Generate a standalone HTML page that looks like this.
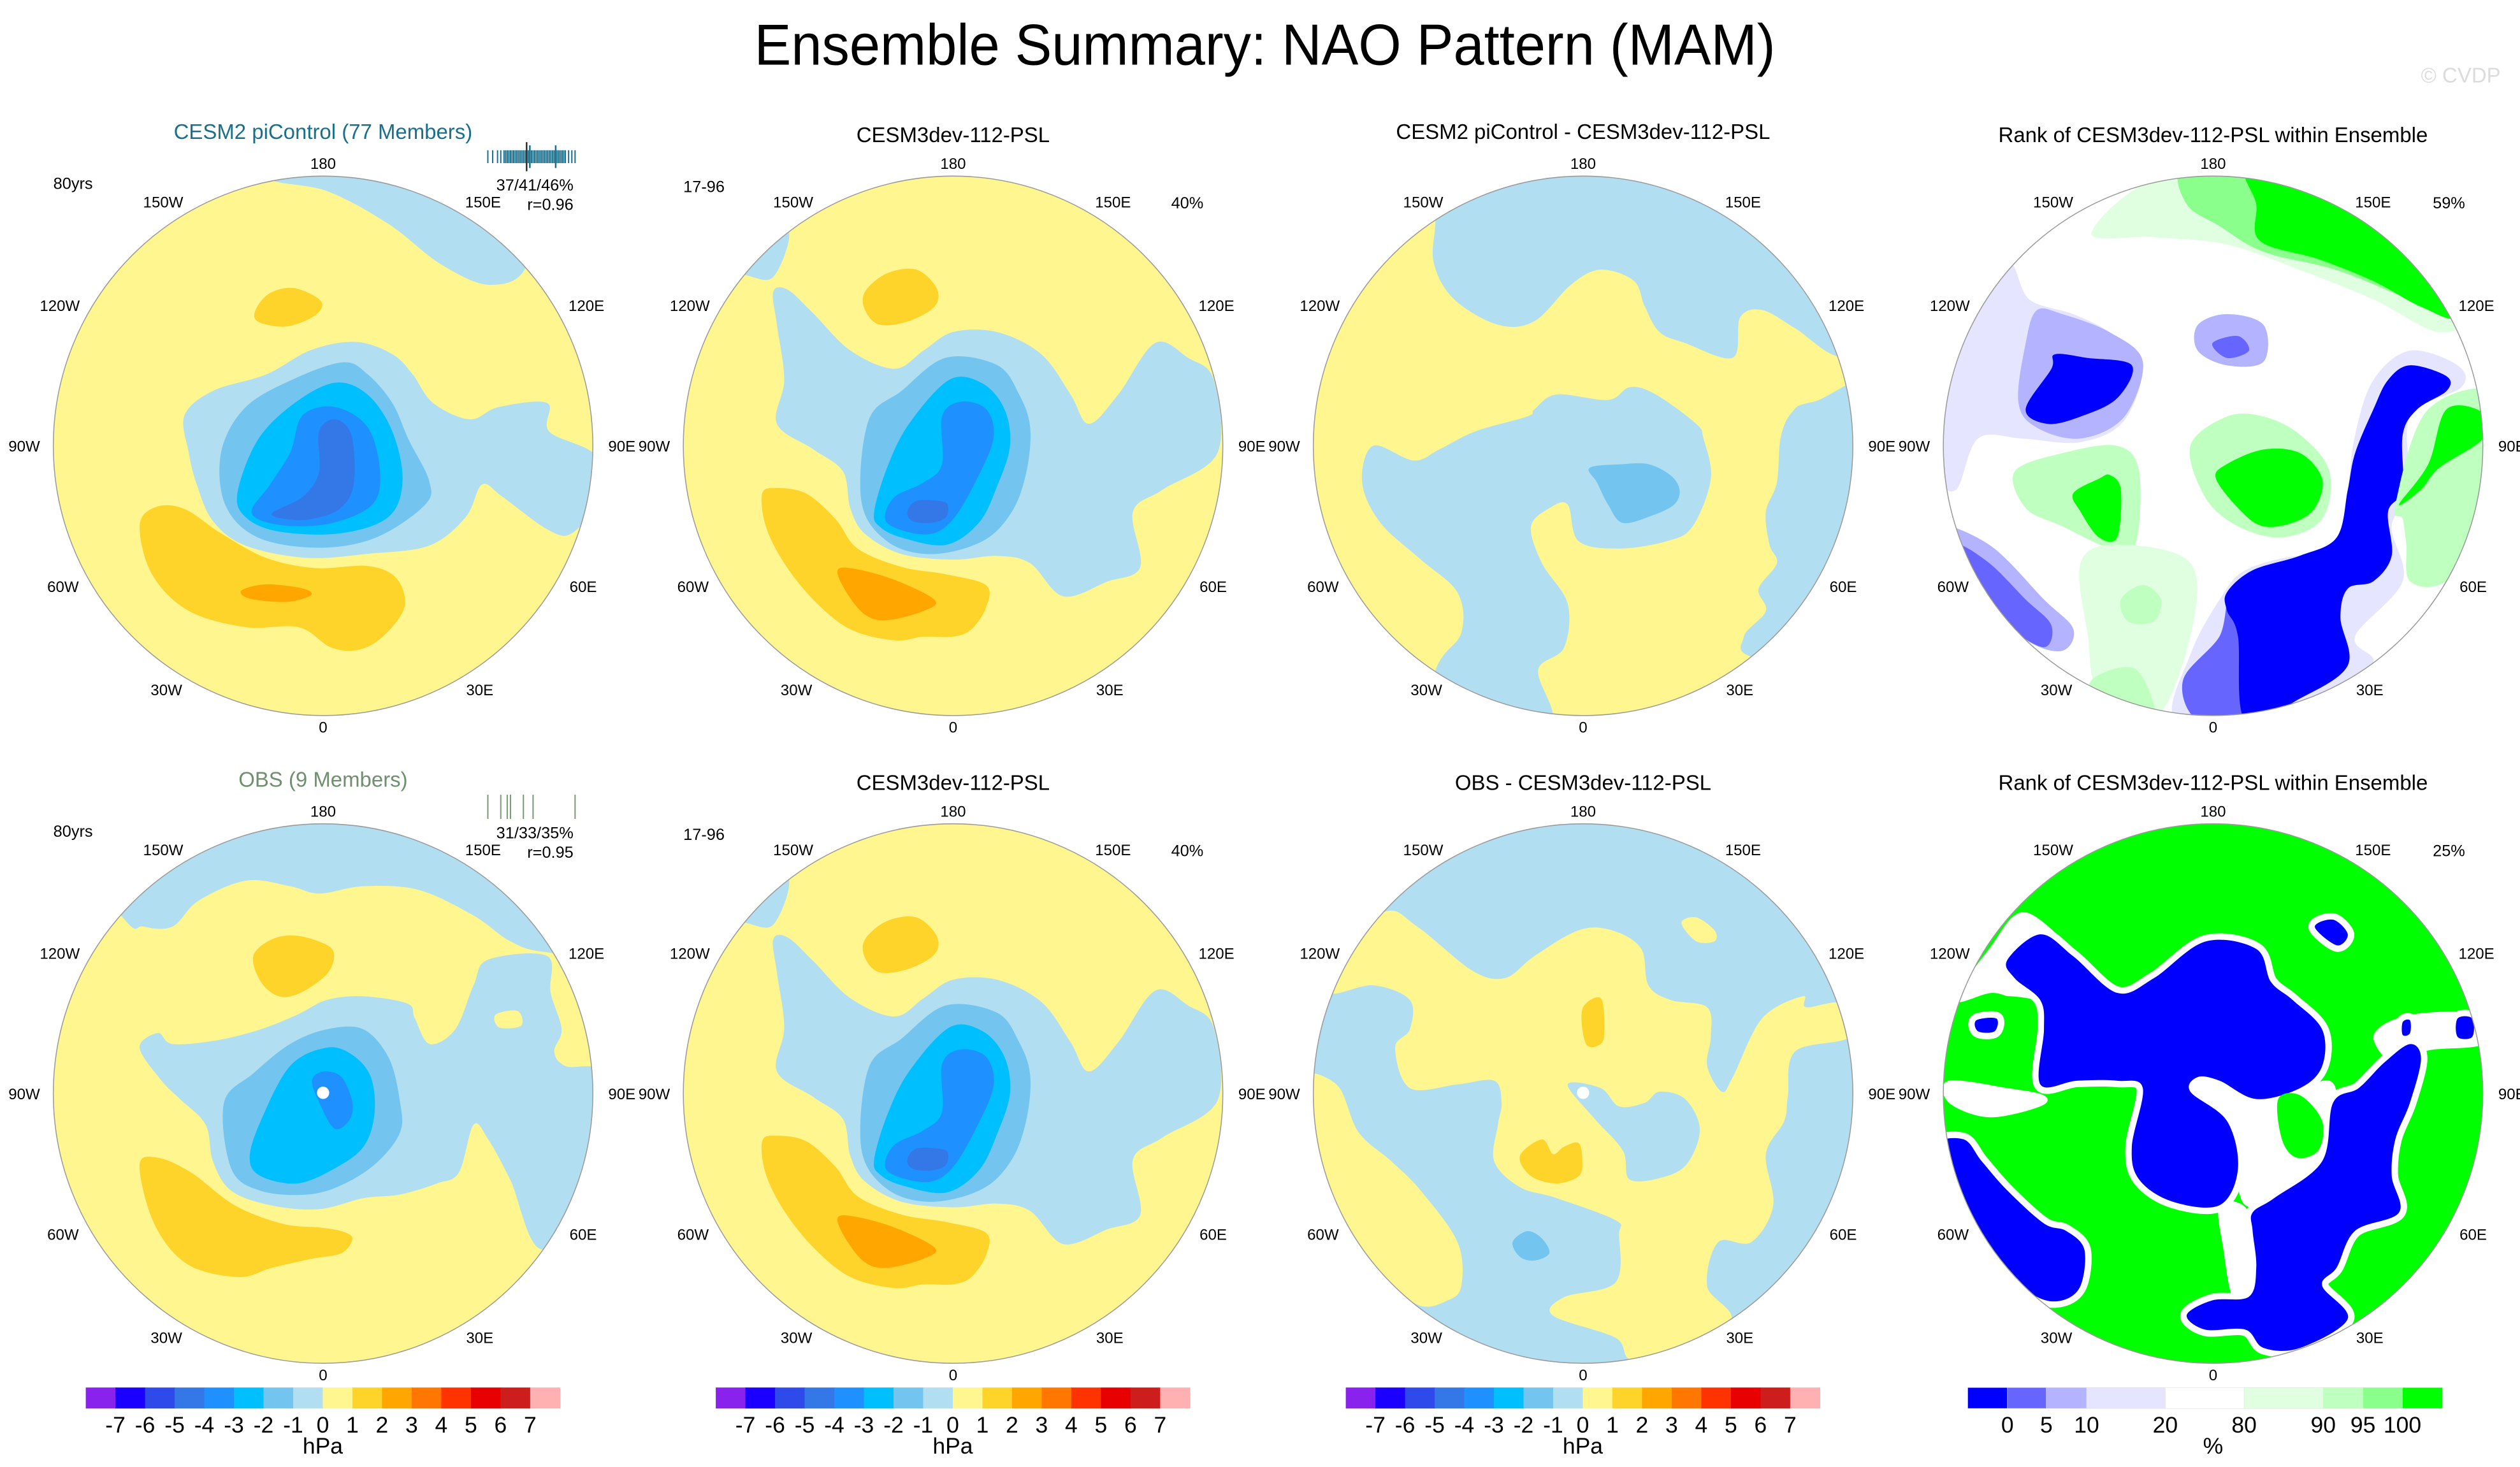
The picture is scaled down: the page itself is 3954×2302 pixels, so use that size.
<!DOCTYPE html>
<html><head><meta charset="utf-8">
<style>
html,body{margin:0;padding:0;background:#fff;}
svg{display:block;}
text{font-family:"Liberation Sans",sans-serif;}
</style></head>
<body>
<svg id="fig" width="3954" height="2302" viewBox="0 0 1560 908.2" xmlns="http://www.w3.org/2000/svg">
<rect x="0" y="0" width="1560" height="908.2" fill="#fff"/>
<text x="783" y="40" font-size="36" text-anchor="middle" textLength="632" lengthAdjust="spacingAndGlyphs">Ensemble Summary: NAO Pattern (MAM)</text>
<text x="1548" y="51" font-size="13" text-anchor="end" fill="#dcdcdc">© CVDP</text>
<g id="panels"></g>
</svg>
<script>
// ---- colour scales (data) ----
const hpaLevels = [-7,-6,-5,-4,-3,-2,-1,0,1,2,3,4,5,6,7];
const hpaColors = ["#8a22ee","#1b00ff","#2f4aea","#3478e8","#1e90ff","#00bfff","#73c5f0","#b2def2","#fff68f","#fed42a","#ffa700","#ff7700","#ff3300","#e80000","#cd1d1d","#ffb0b0"];
const rankLabels = ["0","5","10","20","80","90","95","100"];
const rankColors = ["#0000ff","#6666ff","#b3b3ff","#e5e5ff","#ffffff","#e0ffe0","#bfffbf","#8bff8b","#00ff00"];
const rankEdges = [1218.1,1242.7,1266.8,1291.7,1340.4,1389.2,1438.2,1462.8,1487.2,1511.8];
const lonLabels = ["0","30E","60E","90E","120E","150E","180","150W","120W","90W","60W","30W"];
const lonLabelDx = [0,97,161,185,163,99,0,-99,-163,-185,-161,-97];
const lonLabelDy = [174,151,87,0,-87,-151,-175,-151,-87,0,87,151];
const rugTop = [0,3,6,8,10,11,12,13,14,15,16,17,18,19,20,21,22,23,24,25,26,27,28,29,30,31,32,33,34,35,36,37,38,39,40,41,42,43,44,45,46,47,48,50,52,54];
const rugBottom = [0,8,12,14,22,28,54];

const C={Y0:"#fff68f",Y1:"#fed42a",Y2:"#ffa700",B1:"#b2def2",B2:"#73c5f0",B3:"#00bfff",B4:"#1e90ff",B5:"#3478e8",
G1:"#e0ffe0",G2:"#bfffbf",G3:"#8bff8b",G4:"#00ff00",L1:"#e5e5ff",L2:"#b3b3ff",L3:"#6666ff",L4:"#0000ff",W:"#ffffff"};

const shapesP2=[
["B1",[[330,190],[290,320],[210,315],[150,320],[200,200]]],
["Y1",[[540,360],[600,310],[680,300],[735,350],[730,400],[660,440],[580,450],[540,410]]],
["B1",[[290,360],[330,355],[400,420],[500,520],[620,570],[700,520],[780,470],[900,470],[1020,530],[1100,640],[1150,720],[1230,640],[1330,500],[1420,540],[1490,600],[1500,800],[1350,900],[1270,960],[1290,1110],[1200,1150],[1080,1190],[990,1100],[900,1080],[780,1090],[640,1075],[540,1020],[500,950],[480,850],[400,790],[300,720],[320,600],[300,450]]],
["B2",[[530,930],[550,710],[640,630],[760,540],[900,560],[960,640],[990,730],[980,850],[940,960],[860,1040],[720,1075],[600,1040]]],
["B3",[[565,960],[600,840],[660,720],[770,600],[860,610],[920,680],[935,780],[900,890],[850,990],[760,1050],[640,1030],[580,1000]]],
["B4",[[595,980],[620,920],[700,880],[750,830],[750,700],[800,660],[870,680],[890,760],[840,880],[780,980],[720,1020],[640,1010]]],
["B5",[[655,960],[680,930],[740,930],[765,940],[760,975],[720,990],[670,985]]],
["Y1",[[260,910],[300,895],[380,910],[460,980],[520,1060],[640,1110],[760,1130],[870,1160],[870,1220],[830,1280],[780,1300],[700,1300],[620,1310],[500,1280],[400,1200],[320,1100],[270,1000]]],
["Y2",[[465,1120],[510,1115],[620,1145],[730,1200],[700,1230],[600,1255],[540,1240],[490,1180]]]
];

const panels=[
{id:"cesm2-mean",cx:200,cy:276,pc:[790,865],R:662,bg:"Y0",shapes:[
["B1",[[660,210],[800,240],[950,320],[1080,420],[1200,470],[1290,420],[1300,200],[1000,150],[700,150]]],
["Y1",[[625,530],[660,490],[720,478],[785,510],[770,545],[700,572],[630,560]]],
["B1",[[450,790],[520,730],[650,690],[760,630],[870,610],[960,640],[1010,690],[1060,760],[1150,800],[1220,770],[1340,760],[1345,830],[1460,890],[1460,1000],[1400,1080],[1340,1070],[1230,990],[1180,960],[1140,1040],[1050,1110],[900,1130],[750,1140],[600,1110],[520,1050],[480,960],[460,880]]],
["B2",[[540,880],[600,770],[720,700],[840,660],[900,690],[960,760],[1000,850],[1050,950],[1040,1010],[920,1090],[780,1115],[630,1090],[550,1010]]],
["B3",[[580,980],[630,850],[720,760],[820,710],[900,740],[960,830],[985,950],[950,1040],[830,1080],[680,1075],[600,1040]]],
["B4",[[615,1030],[660,960],[710,880],[740,790],[820,770],[900,820],[930,930],[910,1010],[810,1055],[690,1060]]],
["B5",[[665,1030],[740,990],[780,930],[780,830],[820,800],[860,840],[865,960],[830,1020],[760,1045],[700,1045]]],
["Y1",[[340,1060],[380,1015],[450,1020],[540,1080],[650,1140],[770,1165],[900,1160],[970,1190],[990,1260],[940,1330],[880,1365],[810,1360],[730,1310],[600,1310],[460,1270],[370,1180]]],
["Y2",[[590,1220],[650,1205],[740,1215],[760,1232],[700,1248],[610,1240]]]
]},
{id:"cesm3-top",cx:590,cy:276,pc:[780,780],R:735,bg:"Y0",shapes:shapesP2},
{id:"diff-top",cx:980,cy:276,pc:[772,780],R:735,bg:"Y0",shapes:[
["B1",[[370,-50],[370,160],[365,280],[420,380],[540,450],[640,440],[740,340],[820,300],[910,330],[940,400],[980,470],[1050,500],[1180,540],[1200,430],[1260,410],[1350,460],[1480,540],[1650,500],[1650,-50]]],
["B1",[[1650,630],[1400,660],[1340,690],[1310,760],[1300,880],[1270,960],[1280,1050],[1300,1100],[1250,1170],[1270,1230],[1210,1300],[1250,1360],[1650,1400]]],
["B1",[[170,880],[200,780],[310,820],[380,790],[480,740],[620,700],[640,680],[700,640],[840,655],[900,620],[970,640],[1080,720],[1100,760],[1120,870],[1070,1000],[1000,1040],[870,1060],[760,1040],[730,940],[680,950],[630,1000],[660,1100],[730,1210],[720,1330],[650,1390],[690,1510],[700,1650],[300,1650],[370,1390],[440,1290],[430,1180],[330,1090],[220,990]]],
["B2",[[790,840],[880,830],[950,830],[1010,860],[1035,900],[1020,940],[960,970],[880,990],[840,940],[810,880]]]
]},
{id:"rank-top",cx:1370,cy:276,pc:[762,780],R:737,bg:"W",shapes:[
["G1",[[430,200],[600,50],[900,0],[1300,150],[1450,400],[1380,470],[1200,380],[1000,300],[800,230],[600,210]]],
["G3",[[680,20],[880,20],[1100,80],[1300,230],[1430,420],[1300,380],[1100,300],[900,250],[780,180],[690,120]]],
["G4",[[860,20],[1100,70],[1300,210],[1420,420],[1330,400],[1200,330],[1050,270],[890,220],[880,120]]],
["L1",[[0,650],[100,450],[200,280],[260,380],[380,420],[480,470],[570,550],[520,710],[400,770],[240,760],[120,760],[60,900],[0,850]]],
["L2",[[250,500],[280,410],[350,420],[480,470],[570,550],[520,700],[400,760],[280,730],[230,660]]],
["L4",[[250,680],[320,570],[330,530],[420,540],[540,560],[500,650],[400,700],[310,720]]],
["L2",[[720,450],[800,420],[900,450],[900,550],[800,560],[720,520]]],
["L3",[[760,500],[830,480],[860,520],[800,540]]],
["L2",[[0,1000],[150,1050],[300,1200],[380,1280],[350,1340],[250,1310],[100,1180]]],
["L3",[[60,1050],[150,1100],[250,1200],[320,1270],[300,1330],[200,1270],[100,1150]]],
["L1",[[1100,1100],[1130,900],[1150,750],[1200,600],[1300,520],[1430,560],[1440,620],[1300,700],[1300,900],[1250,1000],[1280,1150],[1150,1300],[1200,1370],[1100,1450],[900,1530],[660,1530],[700,1350],[780,1200],[850,1120],[1000,1080]]],
["L3",[[680,1420],[780,1300],[810,1190],[860,1530],[720,1530]]],
["L4",[[870,1120],[1000,1080],[1100,1030],[1130,900],[1150,800],[1200,680],[1240,600],[1300,560],[1400,590],[1400,630],[1320,680],[1280,750],[1280,900],[1240,960],[1250,1080],[1200,1150],[1130,1170],[1110,1250],[1130,1380],[1000,1470],[850,1530],[830,1300],[800,1230],[800,1180]]],
["G2",[[700,780],[800,700],[900,700],[1000,750],[1080,850],[1060,980],[950,1030],[830,1000],[740,920]]],
["G4",[[770,870],[800,830],[900,790],[1000,800],[1060,870],[1040,950],[980,990],[900,1000],[840,960]]],
["G2",[[220,850],[350,800],[500,780],[560,850],[550,1050],[480,1060],[350,1000],[250,950]]],
["G4",[[380,910],[450,870],[480,860],[510,900],[500,1030],[450,1030],[400,960]]],
["G2",[[1260,940],[1350,680],[1550,650],[1550,1000],[1400,1150],[1300,1150],[1290,1050],[1280,980]]],
["G4",[[1270,940],[1350,830],[1400,680],[1500,690],[1500,760],[1380,840],[1330,900]]],
["G1",[[400,1100],[500,1050],[700,1100],[700,1300],[600,1530],[450,1450],[420,1300]]],
["G2",[[510,1200],[570,1160],[620,1200],[600,1260],[530,1260]]],
["G2",[[430,1420],[550,1390],[600,1530],[450,1500]]]
]},
{id:"obs-mean",cx:200,cy:677,pc:[790,775],R:735,bg:"Y0",shapes:[
["B1",[[0,-50],[1650,-50],[1650,400],[1400,390],[1300,360],[1200,290],[1050,220],[900,210],[780,230],[700,210],[580,195],[450,250],[380,320],[300,320],[240,290]]],
["Y1",[[600,400],[650,355],[720,345],[800,370],[820,400],[800,450],[730,500],[670,510],[620,470]]],
["B1",[[290,650],[340,610],[380,640],[500,630],[620,600],[720,560],[800,520],[900,510],[1020,530],[1040,570],[1080,640],[1150,600],[1200,480],[1240,410],[1400,400],[1410,500],[1440,600],[1420,660],[1450,700],[1560,730],[1560,1000],[1390,1200],[1300,1010],[1240,900],[1200,860],[1160,990],[1100,1020],[1000,1050],[900,1060],[780,1090],[650,1080],[540,1040],[490,960],[470,860],[400,790],[350,740]]],
["Y0",[[1260,560],[1320,550],[1330,590],[1270,595]]],
["B2",[[520,800],[600,720],[700,640],[800,600],[900,600],[970,680],[1000,800],[1000,880],[940,960],[850,1020],[750,1050],[620,1040],[540,980]]],
["B3",[[590,950],[620,850],[700,700],[800,650],[870,670],[920,730],[930,830],[900,920],[820,980],[720,1020],[620,1000]]],
["B4",[[760,740],[790,715],[840,730],[870,800],[860,850],[820,870],[780,800]]],
["Y1",[[290,970],[340,950],[430,990],[550,1080],[680,1130],[780,1140],[840,1150],[870,1170],[840,1210],[760,1225],[650,1250],[560,1275],[420,1240],[330,1130]]]
],dot:[790,773]},
{id:"cesm3-bottom",cx:590,cy:677,pc:[780,780],R:735,bg:"Y0",shapes:shapesP2},
{id:"diff-bottom",cx:980,cy:677,pc:[772,775],R:735,bg:"B1",shapes:[
["Y0",[[230,280],[320,320],[470,440],[560,460],[640,400],[760,330],[850,330],[930,380],[950,480],[1010,520],[1110,540],[1120,620],[1110,700],[1150,770],[1180,730],[1260,570],[1370,510],[1380,540],[1480,530],[1500,620],[1350,660],[1330,780],[1320,850],[1270,940],[1290,1080],[1230,1180],[1140,1180],[1110,1300],[1170,1400],[920,1500],[860,1440],[690,1380],[720,1330],[860,1290],[870,1160],[860,1120],[700,1060],[600,1030],[530,960],[540,860],[550,800],[530,740],[430,750],[300,760],[260,650],[300,600],[300,520],[200,480],[80,500],[80,400]]],
["B1",[[730,750],[820,760],[870,810],[940,800],[980,770],[1050,790],[1090,870],[1060,960],[1000,1000],[900,1010],[880,930],[800,840]]],
["Y0",[[0,740],[100,750],[160,880],[250,960],[330,1040],[430,1180],[440,1300],[400,1340],[320,1350],[200,1250],[60,1000]]],
["Y0",[[1040,310],[1080,295],[1130,330],[1130,360],[1080,360]]],
["Y1",[[770,545],[820,515],[830,600],[820,640],[780,640]]],
["Y1",[[600,945],[660,900],[690,940],[720,920],[760,910],[770,960],[760,1000],[700,1020],[630,1000]]],
["B2",[[580,1180],[620,1150],[660,1170],[680,1210],[640,1230],[600,1220]]]
],dot:[772,773]},
{id:"rank-bottom",cx:1370,cy:677,pc:[762,775],R:737,bg:"G4",halo:true,shapes:[
["W",[[60,520],[150,380],[250,280],[400,420],[330,470],[250,520],[160,500]]],
["W",[[700,740],[800,740],[900,770],[1000,760],[1080,740],[1100,800],[1080,960],[930,1060],[850,1080],[820,980],[790,850]]],
["W",[[1200,620],[1300,560],[1500,560],[1500,640],[1340,660],[1280,720]]],
["W",[[780,1080],[860,1100],[880,1300],[820,1340],[790,1200]]],
["W",[[40,740],[200,760],[300,780],[290,810],[150,840],[40,800]]],
["G4",[[40,560],[150,510],[300,530],[290,620],[250,700],[200,740],[100,720],[30,700]]],
["L4",[[200,410],[290,340],[380,400],[500,500],[600,460],[740,360],[880,380],[920,470],[980,520],[1060,600],[1060,700],[1000,760],[880,790],[780,740],[720,730],[700,770],[800,850],[830,980],[780,1080],[650,1070],[560,1010],[540,920],[570,760],[500,740],[390,740],[290,750],[300,600],[290,520],[220,460]]],
["L4",[[870,1100],[930,1060],[1060,960],[1090,800],[1160,760],[1230,690],[1300,640],[1330,680],[1300,800],[1260,900],[1250,1000],[1270,1100],[1150,1150],[1100,1250],[1060,1300],[1130,1390],[1000,1470],[900,1470],[850,1420],[740,1420],[690,1380],[760,1340],[860,1330],[880,1250],[870,1150]]],
["L4",[[0,920],[80,900],[130,960],[200,1040],[300,1130],[360,1150],[410,1200],[400,1300],[350,1340],[280,1330],[180,1250],[90,1150],[30,1050]]],
["L4",[[1040,320],[1090,300],[1130,340],[1100,370]]],
["L4",[[1430,570],[1470,570],[1470,620],[1430,620]]],
["L4",[[1280,580],[1300,575],[1300,610],[1280,615]]],
["L4",[[115,575],[170,570],[165,605],[120,605]]],
["G4",[[940,790],[1000,780],[1060,850],[1050,930],[990,950],[950,900]]]
]}
];

const NS="http://www.w3.org/2000/svg";
const root=document.getElementById("panels");
function el(tag,attrs,parent){const e=document.createElementNS(NS,tag);for(const k in attrs)e.setAttribute(k,attrs[k]);(parent||root).appendChild(e);return e;}
function smooth(pts){
  const n=pts.length;let d="M"+pts[0][0].toFixed(2)+","+pts[0][1].toFixed(2);
  for(let i=0;i<n;i++){
    const p0=pts[(i-1+n)%n],p1=pts[i],p2=pts[(i+1)%n],p3=pts[(i+2)%n];
    const c1=[p1[0]+(p2[0]-p0[0])/6,p1[1]+(p2[1]-p0[1])/6];
    const c2=[p2[0]-(p3[0]-p1[0])/6,p2[1]-(p3[1]-p1[1])/6];
    d+="C"+c1[0].toFixed(2)+","+c1[1].toFixed(2)+" "+c2[0].toFixed(2)+","+c2[1].toFixed(2)+" "+p2[0].toFixed(2)+","+p2[1].toFixed(2);
  }
  return d+"Z";
}
const RAD=167;
panels.forEach((p,pi)=>{
  const g=el("g",{});
  
  
  const clip=el("clipPath",{id:"clip"+pi},g);
  el("circle",{cx:p.cx,cy:p.cy,r:RAD},clip);
  const inner=el("g",{"clip-path":"url(#clip"+pi+")"},g);
  const bg=el("circle",{cx:p.cx,cy:p.cy,r:RAD,fill:C[p.bg]},inner);
  
  
  const sx=RAD/p.R;
  p.shapes.forEach((s,si)=>{
    const pts=s[1].map(q=>[p.cx+(q[0]-p.pc[0])*sx,p.cy+(q[1]-p.pc[1])*sx]);
    const attrs={d:smooth(pts),fill:C[s[0]]};
    if(p.halo&&s[0]==="L4"){attrs.stroke="#ffffff";attrs["stroke-width"]=8;attrs["paint-order"]="stroke";}
    const path=el("path",attrs,inner);
    
    
  });
  if(p.dot){
    const d=el("circle",{cx:p.cx+(p.dot[0]-p.pc[0])*sx,cy:p.cy+(p.dot[1]-p.pc[1])*sx,r:3.8,fill:"#fff"},inner);
    
    
  }
  const ring=el("circle",{cx:p.cx,cy:p.cy,r:RAD,fill:"none",stroke:"#9a9a9a","stroke-width":0.6},g);
  
  
  lonLabels.forEach((lab,i)=>{
    const t=el("text",{x:p.cx+lonLabelDx[i],y:p.cy+lonLabelDy[i]+3.5,"font-size":9.5,"text-anchor":"middle"},g);
    t.textContent=lab;
    
    
  });
});

// panel titles & annotations
const titles=[
 [200,86,"CESM2 piControl (77 Members)","#1a6f8c","title-cesm2"],
 [590,88,"CESM3dev-112-PSL","#000","title-cesm3-top"],
 [980,86,"CESM2 piControl - CESM3dev-112-PSL","#000","title-diff-top"],
 [1370,88,"Rank of CESM3dev-112-PSL within Ensemble","#000","title-rank-top"],
 [200,487,"OBS (9 Members)","#6f8f6f","title-obs"],
 [590,489,"CESM3dev-112-PSL","#000","title-cesm3-bottom"],
 [980,489,"OBS - CESM3dev-112-PSL","#000","title-diff-bottom"],
 [1370,489,"Rank of CESM3dev-112-PSL within Ensemble","#000","title-rank-bottom"]];
titles.forEach(t=>{
  const e=el("text",{x:t[0],y:t[1],"font-size":13,"text-anchor":"middle",fill:t[3]});
  e.textContent=t[2];
  
  
});
const notes=[
 [33,117,"start","80yrs"],[355,118,"end","37/41/46%"],[355,130,"end","r=0.96"],
 [423,119,"start","17-96"],[745,129,"end","40%"],[1526,129,"end","59%"],
 [33,518,"start","80yrs"],[355,519,"end","31/33/35%"],[355,531,"end","r=0.95"],
 [423,520,"start","17-96"],[745,530,"end","40%"],[1526,530,"end","25%"]];
notes.forEach(n=>{
  const e=el("text",{x:n[0],y:n[1],"font-size":10,"text-anchor":n[2]});
  e.textContent=n[3];
  
  
});
// rug plots
rugTop.forEach(v=>{
  const l=el("line",{x1:302+v,x2:302+v,y1:93,y2:101,stroke:"#1a6f8c","stroke-width":0.8});
  
  
});
[[24,88,106,"#333"],[26,90,104,"#1a6f8c"],[42,90,104,"#1a6f8c"]].forEach(m=>{
  const l=el("line",{x1:302+m[0],x2:302+m[0],y1:m[1],y2:m[2],stroke:m[3],"stroke-width":1});
  
  
});
rugBottom.forEach(v=>{
  const l=el("line",{x1:302+v,x2:302+v,y1:492,y2:507,stroke:"#7a9a7a","stroke-width":0.8});
  
  
});

// hPa colorbars
const BY=859,BH=13;
[0,1,2].forEach(k=>{
  const x0=53.1+k*390,w=18.34;
  hpaColors.forEach((c,i)=>{
    const r=el("rect",{x:x0+i*w,y:BY,width:w+0.3,height:BH,fill:c});
    
    
  });
  hpaLevels.forEach((v,i)=>{
    const t=el("text",{x:x0+(i+1)*w,y:887,"font-size":14,"text-anchor":"middle"});
    t.textContent=String(v);
    
    
  });
  const u=el("text",{x:x0+8*w,y:900,"font-size":14,"text-anchor":"middle"});
  u.textContent="hPa";
  
  
});
// rank colorbar
rankColors.forEach((c,i)=>{
  const r=el("rect",{x:rankEdges[i],y:BY,width:rankEdges[i+1]-rankEdges[i]+0.3,height:BH,fill:c,stroke:"#e4e4e4","stroke-width":0.3});
  
  
});
rankLabels.forEach((lab,i)=>{
  const t=el("text",{x:rankEdges[i+1],y:887,"font-size":14,"text-anchor":"middle"});
  t.textContent=lab;
  
  
});
const pu=el("text",{x:1370,y:900,"font-size":14,"text-anchor":"middle"});
pu.textContent="%";


</script>
</body></html>
